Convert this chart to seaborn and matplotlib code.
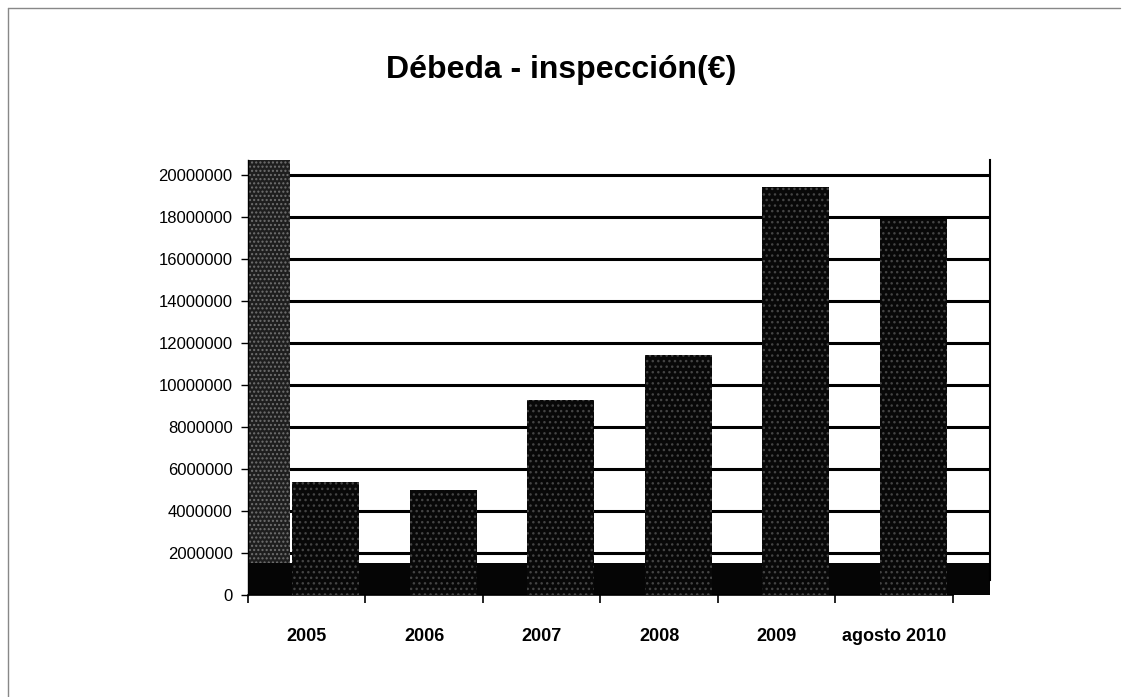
import matplotlib
matplotlib.use("Agg")
import matplotlib.pyplot as plt
import matplotlib.lines as mlines
import seaborn as sns
import pandas as pd
import numpy as np

categories = ["2005", "2006", "2007", "2008", "2009", "agosto 2010"]
values = [5400000, 5000000, 9300000, 11400000, 19400000, 17900000]
yticks = [0, 2000000, 4000000, 6000000, 8000000, 10000000, 12000000,
          14000000, 16000000, 18000000, 20000000]
title = "Débeda - inspección(€)"

sns.set_theme(style="white")
plt.rcParams["font.family"] = ["Liberation Sans", "DejaVu Sans"]

W, H = 1127, 697
fig = plt.figure(figsize=(W / 100, H / 100), dpi=100)
fig.patch.set_facecolor("white")

# axes: left 248 px, right 990 px, bottom 595 px, top 160 px
ax = fig.add_axes([248 / W, 1 - 595 / H, (990 - 248) / W, (595 - 160) / H])

df = pd.DataFrame({"cat": categories, "val": values})

# gridlines
for v in yticks[1:]:
    ax.axhline(v, color="black", lw=2.2, zorder=1)

sns.barplot(data=df, x="cat", y="val", color="#080808", width=0.57,
            saturation=1, ax=ax, zorder=3)
for p in ax.containers[0]:
    p.set_hatch("...")
    p.set_edgecolor("#444444")
    p.set_linewidth(0)
    p.set_x(p.get_x() + 0.16)

# left wall and floor (3D-like decoration)
ax.axvspan(-0.5, -0.14, facecolor="#1e1e1e", hatch="....", edgecolor="#707070", lw=0, zorder=2)
ax.axhspan(0, 1500000, facecolor="#050505", lw=0, zorder=2)

ax.set_xlim(-0.5, 5.815)
ax.set_ylim(0, 20700000)
ax.set_yticks(yticks)
ax.set_yticklabels([str(v) for v in yticks], fontsize=12, color="black")
ax.set_xticks(range(len(categories)))
ax.set_xticklabels(categories, fontsize=13, fontweight="bold", color="black")
ax.set_xticks(np.arange(-0.5, 5.6, 1.0), minor=True)
ax.tick_params(axis="x", which="major", length=0, pad=24)
ax.tick_params(axis="x", which="minor", length=6, width=1.2, color="black", direction="out", bottom=True)
ax.tick_params(axis="y", length=5, width=1, color="black", direction="out", left=True, pad=6)
ax.set_xlabel("")
ax.set_ylabel("")

ax.spines["top"].set_visible(False)
ax.spines["left"].set_color("black")
ax.spines["left"].set_linewidth(1)
ax.spines["bottom"].set_color("black")
ax.spines["bottom"].set_linewidth(1.2)
ax.spines["bottom"].set_bounds(-0.5, 5.5)
ax.spines["right"].set_color("black")
ax.spines["right"].set_linewidth(1.5)
ax.spines["right"].set_bounds(700000, 20700000)

fig.text(561 / W, 1 - 70 / H, title, ha="center", va="center",
         fontsize=23, fontweight="bold", color="black")

# scan frame lines
fig.add_artist(mlines.Line2D([8 / W, 1120 / W], [1 - 8 / H, 1 - 8 / H], color="#888888", lw=1))
fig.add_artist(mlines.Line2D([8 / W, 8 / W], [1 - 8 / H, 0], color="#888888", lw=1))

fig.savefig("out.png", dpi=100)
